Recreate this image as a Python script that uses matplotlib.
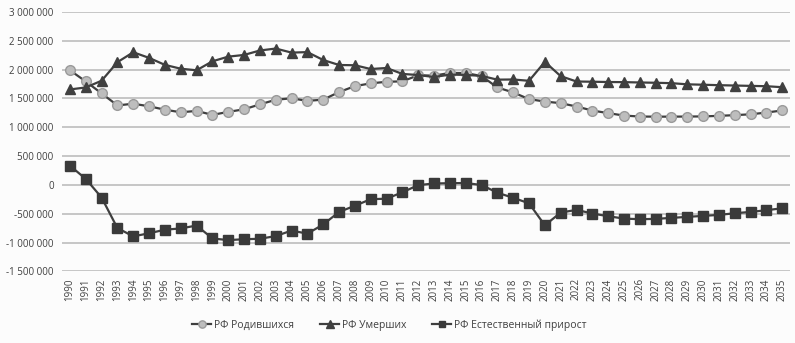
import matplotlib
matplotlib.use("Agg")
import matplotlib.pyplot as plt
from matplotlib.ticker import FuncFormatter

years = list(range(1990, 2036))

births = [1988858, 1794626, 1587644, 1378983, 1408159, 1363806, 1304638, 1259943,
          1283292, 1214689, 1266800, 1311604, 1396967, 1477301, 1502477, 1457376,
          1479637, 1610122, 1713947, 1761687, 1788948, 1796629, 1902084, 1895822,
          1942683, 1940579, 1888729, 1690307, 1604344, 1488000, 1446000, 1418000,
          1360000, 1290000, 1245000, 1203000, 1186000, 1184000, 1184000, 1186000,
          1188000, 1198000, 1210000, 1225000, 1255000, 1292000]

deaths = [1655993, 1690657, 1807441, 2129339, 2301366, 2203811, 2082249, 2015779,
          1988744, 2144316, 2225332, 2254856, 2332272, 2365826, 2295402, 2303935,
          2166703, 2080445, 2075954, 2010543, 2028516, 1925720, 1906335, 1871809,
          1913613, 1908541, 1891015, 1826125, 1828910, 1806000, 2135000, 1887000,
          1794000, 1790000, 1785000, 1783000, 1777000, 1772000, 1765000, 1745000,
          1738000, 1730000, 1724000, 1718000, 1712000, 1695000]

natural = [332865, 103969, -219797, -750356, -893207, -840005, -777611, -755836,
           -705452, -929627, -958532, -943252, -935305, -888525, -792925, -846559,
           -687066, -470323, -362007, -248856, -239568, -129091, -4251, 24013,
           29070, 32038, -2286, -135818, -224566, -319625, -702000, -480000,
           -434000, -497000, -544000, -585000, -596000, -590000, -573000, -555000,
           -538000, -521000, -492000, -469000, -440000, -405000]

labels = ["РФ Родившихся", "РФ Умерших", "РФ Естественный прирост"]
yticks = [-1500000, -1000000, -500000, 0, 500000, 1000000, 1500000, 2000000, 2500000, 3000000]

plt.rcParams['font.family'] = ['Open Sans', 'DejaVu Sans']

fig = plt.figure(figsize=(7.95, 3.43), dpi=100, facecolor='#fcfcfc')
ax = fig.add_axes([0.078, 0.209, 0.916, 0.756])
ax.set_facecolor('#fcfcfc')

x = list(range(len(years)))
line_col = '#3f3f3f'
ax.plot(x, births, color=line_col, lw=1.6, marker='o', ms=7,
        mfc='#bdbdbd', mec='#9a9a9a', mew=1.0, label=labels[0], zorder=3)
ax.plot(x, deaths, color=line_col, lw=1.6, marker='^', ms=7,
        mfc='#404040', mec='#404040', label=labels[1], zorder=3)
ax.plot(x, natural, color=line_col, lw=1.6, marker='s', ms=6.5,
        mfc='#3a3a3a', mec='#3a3a3a', label=labels[2], zorder=3)

ax.set_xlim(-0.5, len(years) - 0.5)
ax.set_ylim(-1500000, 3000000)
ax.set_yticks(yticks)
ax.yaxis.set_major_formatter(FuncFormatter(lambda v, p: f"{int(v):,}".replace(",", " ")))
ax.set_xticks(x)
ax.set_xticklabels([str(y) for y in years], rotation=90, fontsize=7, color='#404040')
ax.tick_params(axis='y', labelsize=7, colors='#404040', length=0, pad=6)
ax.tick_params(axis='x', length=0, pad=5)
ax.grid(axis='y', color='#bdbdbd', lw=1.2)
ax.set_axisbelow(True)
for s in ax.spines.values():
    s.set_visible(False)

fig.legend(loc='center', bbox_to_anchor=(0.49, 0.052), ncol=3, frameon=False,
           fontsize=7.5, handlelength=1.8, columnspacing=2.5, handletextpad=0.3,
           markerscale=0.75, labelcolor='#404040')

fig.savefig("out.png", dpi=100, facecolor=fig.get_facecolor())
